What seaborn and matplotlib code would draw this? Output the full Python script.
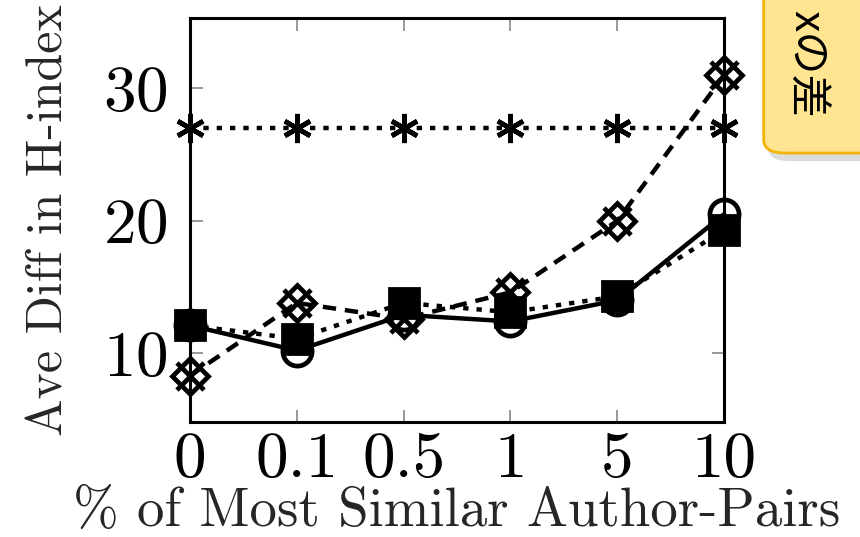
import matplotlib
matplotlib.use("Agg")
import matplotlib.pyplot as plt
import seaborn as sns
import pandas as pd
import numpy as np
from matplotlib.patches import FancyBboxPatch

categories = ["0", "0.1", "0.5", "1", "5", "10"]
star_vals = [27.0, 27.0, 27.0, 27.0, 27.0, 27.0]
diamond_vals = [8.3, 13.8, 12.6, 14.6, 20.0, 31.0]
circle_vals = [12.1, 10.2, 12.9, 12.4, 14.0, 20.5]
square_vals = [12.1, 11.1, 13.8, 13.1, 14.3, 19.3]

sns.set_theme(style="white")
plt.rcParams["font.family"] = ["cmr10", "Noto Sans CJK JP", "DejaVu Sans"]
plt.rcParams["mathtext.fontset"] = "cm"
plt.rcParams["axes.formatter.use_mathtext"] = True

fig = plt.figure(figsize=(8.6, 5.37), dpi=100)
ax = fig.add_axes([0.221, 0.214, 0.621, 0.752])

xs = list(range(len(categories)))
lw = 3.2

def draw(vals, marker, ls, fill=True, mew=3.0, size=20):
    df = pd.DataFrame({"x": xs, "y": vals})
    sns.lineplot(data=df, x="x", y="y", ax=ax, color="black", linewidth=lw,
                 linestyle=ls, marker=marker, markersize=size,
                 markerfacecolor="black" if fill else "none",
                 markeredgecolor="black", markeredgewidth=mew, clip_on=False,
                 zorder=3)

draw(star_vals, (6, 2, 0), (0, (1.2, 1.8)), mew=3.4, size=21)
draw(diamond_vals, "D", (0, (3.0, 2.0)), fill=False, mew=3.4, size=18)
ax.scatter(xs, diamond_vals, marker="x", s=380, color="black", linewidths=3.4,
           clip_on=False, zorder=4)
draw(circle_vals, "o", "-", fill=False, mew=3.4, size=21)
draw(square_vals, "s", (0, (1.2, 1.8)), fill=True, mew=2.0, size=21)

ax.set_xlim(0, 5)
ax.set_ylim(4.8, 35.3)
ax.set_xticks(xs)
ax.set_xticklabels(categories)
ax.set_yticks([10, 20, 30])
ax.tick_params(axis="both", direction="in", length=9, width=1.2, color="#888888",
               labelsize=47, labelcolor="black", top=True, right=True,
               bottom=True, left=True)
ax.tick_params(axis="x", pad=7)
ax.tick_params(axis="y", pad=16)
ax.set_xlabel("% of Most Similar Author-Pairs", fontsize=39.5, labelpad=-2)
ax.set_ylabel("Ave Diff in H-index", fontsize=36, labelpad=22)
for s in ax.spines.values():
    s.set_color("black")
    s.set_linewidth(2.2)

# callout box at top right
shadow = FancyBboxPatch((0.893, 0.70), 0.2, 0.4, boxstyle="round,pad=0,rounding_size=0.025",
                        transform=fig.transFigure, facecolor="#bbbbbb", edgecolor="none",
                        alpha=0.5, zorder=0)
box = FancyBboxPatch((0.888, 0.715), 0.2, 0.4, boxstyle="round,pad=0,rounding_size=0.025",
                     transform=fig.transFigure, facecolor="#ffe592", edgecolor="#f4b400",
                     linewidth=2, zorder=1)
fig.patches.append(shadow)
fig.patches.append(box)
fig.text(0.937, 1 - 118 / 537, "xの差", rotation=270, va="bottom", ha="center",
         fontsize=31, family=["Noto Sans CJK JP", "DejaVu Sans"], color="black")

fig.savefig("out.png", dpi=100)
